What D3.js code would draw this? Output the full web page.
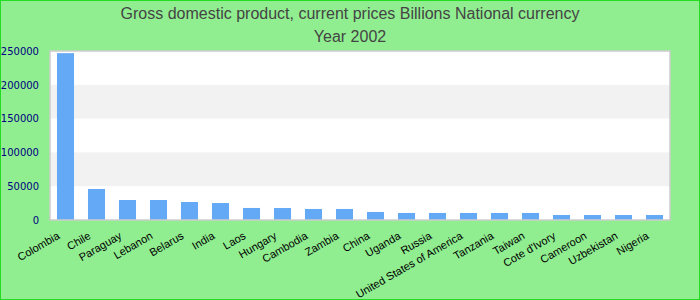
<!DOCTYPE html>
<html>
<head>
<meta charset="utf-8">
<script src="https://d3js.org/d3.v7.min.js"></script>
<style>
  body { margin: 0; }
  svg { display: block; }
</style>
</head>
<body>
<svg id="chart"></svg>
<script>
// GDP, current prices, billions of national currency, 2002
const countries = ["Colombia", "Chile", "Paraguay", "Lebanon", "Belarus", "India", "Laos", "Hungary",
  "Cambodia", "Zambia", "China", "Uganda", "Russia", "United States of America", "Tanzania",
  "Taiwan", "Cote d'Ivory", "Cameroon", "Uzbekistan", "Nigeria"];
const gdp = [246800, 45900, 29600, 29600, 26600, 25100, 17800, 17700,
  16300, 16300, 11900, 10400, 10400, 10400, 10400,
  10400, 7400, 7400, 7400, 7400];
const yTicks = [0, 50000, 100000, 150000, 200000, 250000];
const titleLines = ["Gross domestic product, current prices Billions National currency", "Year 2002"];

const width = 700, height = 300;
const plot = { left: 50, right: 670, top: 51, bottom: 220 };

const svg = d3.select("#chart")
    .attr("width", width)
    .attr("height", height);

// background + outer border
svg.append("rect")
    .attr("x", 0.5).attr("y", 0.5)
    .attr("width", width - 1).attr("height", height - 1)
    .attr("fill", "#90ee90")
    .attr("stroke", "#22dd22");

const x = d3.scaleBand()
    .domain(countries)
    .range([plot.left, plot.right])
    .paddingInner(0.45)
    .paddingOuter(0.225);

const y = d3.scaleLinear()
    .domain([0, 250000])
    .range([plot.bottom, plot.top]);

// plot background with alternating bands
svg.append("rect")
    .attr("x", plot.left).attr("y", plot.top)
    .attr("width", plot.right - plot.left).attr("height", plot.bottom - plot.top)
    .attr("fill", "#fff");

svg.selectAll("rect.band")
    .data(d3.pairs(yTicks).filter((d, i) => i % 2 === 1))
    .enter().append("rect")
    .attr("class", "band")
    .attr("x", plot.left)
    .attr("width", plot.right - plot.left)
    .attr("y", d => y(d[1]))
    .attr("height", d => y(d[0]) - y(d[1]))
    .attr("fill", "#f2f2f2");

// bars
svg.selectAll("rect.bar")
    .data(countries)
    .enter().append("rect")
    .attr("class", "bar")
    .attr("x", d => x(d))
    .attr("width", x.bandwidth())
    .attr("y", (d, i) => y(gdp[i]))
    .attr("height", (d, i) => y(0) - y(gdp[i]))
    .attr("fill", "#63a9f5");

// plot border
svg.append("rect")
    .attr("x", plot.left).attr("y", plot.top)
    .attr("width", plot.right - plot.left).attr("height", plot.bottom - plot.top)
    .attr("fill", "none")
    .attr("stroke", "#cccccc")
    .attr("stroke-width", 1.5);

// y axis labels
const yAxis = svg.append("g")
    .attr("transform", `translate(${plot.left - 11},0)`)
    .call(d3.axisLeft(y).tickValues(yTicks).tickSize(0).tickPadding(0).tickFormat(d3.format("d")));
yAxis.select(".domain").remove();
yAxis.selectAll("text")
    .attr("fill", "#000080")
    .style("font-family", "DejaVu Sans")
    .style("font-size", "10px");

// x axis labels, rotated
const xAxis = svg.append("g")
    .attr("transform", `translate(0,${plot.bottom})`)
    .call(d3.axisBottom(x).tickSize(0));
xAxis.select(".domain").remove();
xAxis.selectAll("text")
    .attr("y", 0).attr("dy", 0)
    .attr("text-anchor", "end")
    .attr("transform", "translate(-5,18) rotate(-30)")
    .attr("fill", "#000")
    .style("font-family", "Liberation Sans, Arial, sans-serif")
    .style("font-size", "11px");

// title
svg.selectAll("text.title")
    .data(titleLines)
    .enter().append("text")
    .attr("class", "title")
    .attr("x", width / 2)
    .attr("y", (d, i) => 19 + i * 23)
    .attr("text-anchor", "middle")
    .attr("fill", "#444")
    .style("font-family", "Liberation Sans, Arial, sans-serif")
    .style("font-size", "16px")
    .text(d => d);
</script>
</body>
</html>
